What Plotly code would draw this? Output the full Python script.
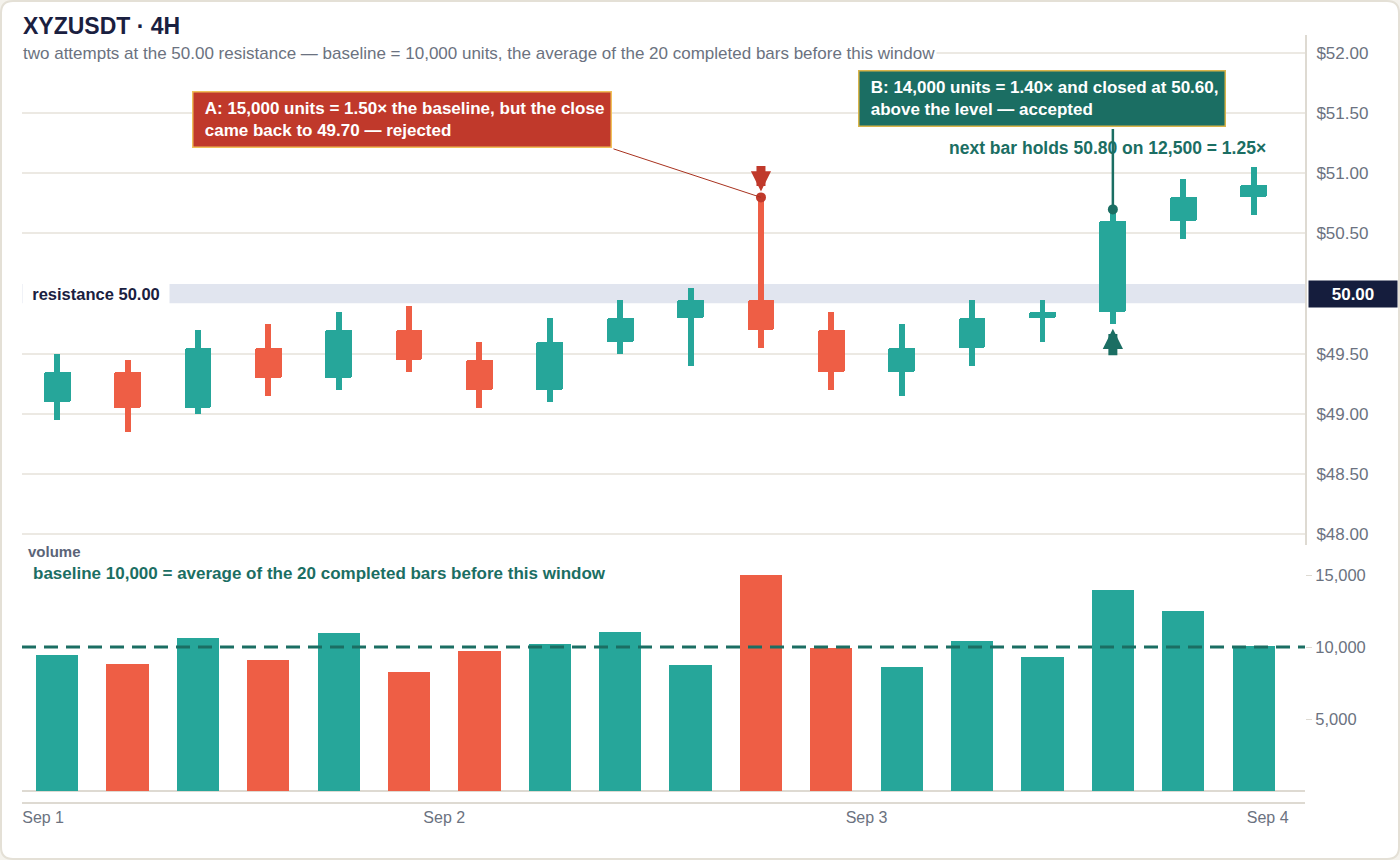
import plotly.graph_objects as go

# ---------------- data ----------------
bar_index = list(range(18))
opens  = [49.10, 49.35, 49.05, 49.55, 49.30, 49.70, 49.45, 49.20, 49.60, 49.80, 49.95, 49.70, 49.35, 49.55, 49.80, 49.85, 50.60, 50.80]
highs  = [49.50, 49.45, 49.70, 49.75, 49.85, 49.90, 49.60, 49.80, 49.95, 50.05, 50.80, 49.85, 49.75, 49.95, 49.95, 50.70, 50.95, 51.05]
lows   = [48.95, 48.85, 49.00, 49.15, 49.20, 49.35, 49.05, 49.10, 49.50, 49.40, 49.55, 49.20, 49.15, 49.40, 49.60, 49.75, 50.45, 50.65]
closes = [49.35, 49.05, 49.55, 49.30, 49.70, 49.45, 49.20, 49.60, 49.80, 49.95, 49.70, 49.35, 49.55, 49.80, 49.85, 50.60, 50.80, 50.90]
volumes = [9450, 8800, 10600, 9100, 11000, 8300, 9700, 10200, 11050, 8750, 15000, 9950, 8600, 10400, 9300, 14000, 12500, 10100]

day_tick_pos = [-0.2, 5.5, 11.5, 17.2]
day_tick_text = ["Sep 1", "Sep 2", "Sep 3", "Sep 4"]

# 50.00 is covered by the level tag on the axis
price_ticks = [48.0, 48.5, 49.0, 49.5, 50.5, 51.0, 51.5, 52.0]
price_tick_text = ["$%.2f" % v for v in price_ticks]
volume_ticks = [5000, 10000, 15000]

RESISTANCE = 50.00
BAND_HALF = 0.08
BASELINE = 10000
A_IDX = 10   # rejected attempt
B_IDX = 15   # accepted breakout
NEXT_IDX = 16

# ---------------- style ----------------
UP = "#26a69a"
DOWN = "#ee5e45"
A_FILL = "#c0392b"
B_FILL = "#1b6e63"
GOLD = "#f0c05a"
NAVY = "#151d3d"
GRAY = "#6b7280"
GRID = "#ece9e3"
AXIS = "#dedad2"
FONT = "Liberation Sans, Arial, sans-serif"
NB = "\u00a0"

W, H = 1400, 860
ML, MR, MT, MB = 22, 95, 35, 58
PW, PH = W - ML - MR, H - MT - MB


def fx(px):
    return (px - ML) / PW


def fy(py):
    return (H - MB - py) / PH


colors = [UP if c >= o else DOWN for o, c in zip(opens, closes)]
body_base = [min(o, c) for o, c in zip(opens, closes)]
body_len = [abs(c - o) for o, c in zip(opens, closes)]
wick_len = [h - l for h, l in zip(highs, lows)]

fig = go.Figure()

# wicks
fig.add_trace(go.Bar(x=bar_index, y=wick_len, base=lows, width=0.085,
                     marker=dict(color=colors, line=dict(width=0)),
                     xaxis="x", yaxis="y", showlegend=False, hoverinfo="skip"))
# bodies
fig.add_trace(go.Bar(x=bar_index, y=body_len, base=body_base, width=0.38,
                     marker=dict(color=colors, line=dict(width=0), cornerradius=2),
                     xaxis="x", yaxis="y", showlegend=False, hoverinfo="skip"))
# highlight dots
fig.add_trace(go.Scatter(x=[bar_index[A_IDX]], y=[highs[A_IDX]], mode="markers",
                         marker=dict(size=10, color=A_FILL), xaxis="x", yaxis="y",
                         showlegend=False, hoverinfo="skip"))
fig.add_trace(go.Scatter(x=[bar_index[B_IDX]], y=[highs[B_IDX]], mode="markers",
                         marker=dict(size=10, color=B_FILL), xaxis="x", yaxis="y",
                         showlegend=False, hoverinfo="skip"))
# volume
fig.add_trace(go.Bar(x=bar_index, y=volumes, width=0.6,
                     marker=dict(color=colors, line=dict(width=0)),
                     xaxis="x2", yaxis="y2", showlegend=False, hoverinfo="skip"))

# ---------------- shapes ----------------
r = 12
x0, x1 = fx(1), fx(W - 1)
y0, y1 = fy(H - 1), fy(1)
rx, ry = r / PW, r / PH
card = (f"M{x0 + rx},{y1} L{x1 - rx},{y1} Q{x1},{y1} {x1},{y1 - ry} "
        f"L{x1},{y0 + ry} Q{x1},{y0} {x1 - rx},{y0} L{x0 + rx},{y0} "
        f"Q{x0},{y0} {x0},{y0 + ry} L{x0},{y1 - ry} Q{x0},{y1} {x0 + rx},{y1} Z")

shapes = [
    dict(type="path", path=card, xref="paper", yref="paper", fillcolor="white",
         line=dict(color="#e4e0d6", width=2), layer="below"),
    dict(type="rect", xref="paper", yref="y", x0=0, x1=1,
         y0=RESISTANCE - BAND_HALF, y1=RESISTANCE + BAND_HALF,
         fillcolor="#e1e5ef", line=dict(width=0), layer="below"),
    dict(type="line", xref="paper", yref="y2", x0=0, x1=1, y0=BASELINE, y1=BASELINE,
         line=dict(color=B_FILL, width=3, dash="14px,8px"), layer="above"),
]

# ---------------- annotations ----------------
ann = []
ann.append(dict(text="<b>XYZUSDT · 4H</b>", xref="paper", yref="paper", x=fx(21), y=fy(26),
                xanchor="left", yanchor="middle", showarrow=False,
                font=dict(family=FONT, size=23, color="#1a2040")))
ann.append(dict(text="two attempts at the 50.00 resistance — baseline = 10,000 units, the average of the 20 completed bars before this window",
                xref="paper", yref="paper", x=fx(21), y=fy(53), xanchor="left", yanchor="middle",
                showarrow=False, bgcolor="white", borderpad=1,
                font=dict(family=FONT, size=17, color=GRAY)))

# A box + connector
ann.append(dict(text=f"<b>{NB}A: 15,000 units = 1.50× the baseline, but the close<br>{NB}came back to 49.70 — rejected</b>",
                x=bar_index[A_IDX], y=highs[A_IDX], xref="x", yref="y",
                xanchor="right", yanchor="bottom", xshift=-149, yshift=49,
                showarrow=False, align="left", bgcolor=A_FILL, bordercolor=GOLD,
                borderwidth=1.5, borderpad=6.5,
                font=dict(family=FONT, size=17, color="white")))
ann.append(dict(text="", x=bar_index[A_IDX], y=highs[A_IDX], xref="x", yref="y",
                ax=-149, ay=-49, showarrow=True, arrowhead=0, arrowwidth=1,
                arrowcolor="#a8321f"))
ann.append(dict(text="", x=bar_index[A_IDX], y=highs[A_IDX], xref="x", yref="y",
                ax=0, ay=-33, showarrow=True, arrowhead=2, arrowsize=0.45,
                arrowwidth=9, standoff=6, arrowcolor=A_FILL))

# B box + connector
ann.append(dict(text=f"<b>{NB}B: 14,000 units = 1.40× and closed at 50.60,<br>{NB}above the level — accepted</b>",
                x=bar_index[B_IDX], y=highs[B_IDX], xref="x", yref="y",
                xanchor="right", yanchor="bottom", xshift=113, yshift=82,
                showarrow=False, align="left", bgcolor=B_FILL, bordercolor="#d9b44a",
                borderwidth=1.5, borderpad=6.5,
                font=dict(family=FONT, size=17, color="white")))
ann.append(dict(text="", x=bar_index[B_IDX], y=highs[B_IDX], xref="x", yref="y",
                ax=0, ay=-82, showarrow=True, arrowhead=0, arrowwidth=2.5,
                arrowcolor=B_FILL))
ann.append(dict(text="", x=bar_index[B_IDX], y=lows[B_IDX], xref="x", yref="y",
                ax=0, ay=33, showarrow=True, arrowhead=2, arrowsize=0.45,
                arrowwidth=9, standoff=5, arrowcolor=B_FILL))

ann.append(dict(text="<b>next bar holds 50.80 on 12,500 = 1.25×</b>",
                x=bar_index[NEXT_IDX], y=highs[NEXT_IDX], xref="x", yref="y",
                xanchor="center", yanchor="middle", xshift=-76, yshift=31,
                showarrow=False, font=dict(family=FONT, size=17.5, color=B_FILL)))

# resistance labels
ann.append(dict(text="<b>resistance 50.00</b>", xref="paper", yref="y", x=0, y=RESISTANCE,
                xanchor="left", yanchor="middle", showarrow=False, bgcolor="white",
                width=138, height=14, borderpad=4, align="center",
                font=dict(family=FONT, size=16.5, color="#1a2040")))
ann.append(dict(text="<b>50.00</b>", xref="paper", yref="y", x=1, y=RESISTANCE,
                xanchor="left", yanchor="middle", showarrow=False, bgcolor=NAVY,
                width=80, height=18, borderpad=4, xshift=3,
                font=dict(family=FONT, size=17, color="white")))

# volume labels
ann.append(dict(text="<b>volume</b>", xref="paper", yref="paper", x=fx(26), y=fy(551),
                xanchor="left", yanchor="middle", showarrow=False,
                font=dict(family=FONT, size=15, color="#5b6478")))
ann.append(dict(text="<b>baseline 10,000 = average of the 20 completed bars before this window</b>",
                xref="paper", yref="paper", x=fx(31), y=fy(573),
                xanchor="left", yanchor="middle", showarrow=False,
                font=dict(family=FONT, size=17, color=B_FILL)))

xr = [-0.5, 17.73]
fig.update_layout(
    width=W, height=H,
    margin=dict(l=ML, r=MR, t=MT, b=MB),
    paper_bgcolor="#f4f2ec", plot_bgcolor="rgba(0,0,0,0)",
    barmode="overlay", bargap=0,
    font=dict(family=FONT, color=GRAY),
    shapes=shapes, annotations=ann,
    xaxis=dict(domain=[0, 1], anchor="y", range=xr, showticklabels=False,
               showgrid=False, zeroline=False, showline=False, ticks=""),
    xaxis2=dict(domain=[0, 1], anchor="y2", range=xr, matches="x",
                tickvals=day_tick_pos, ticktext=day_tick_text,
                showgrid=False, zeroline=False, showline=True, linecolor=AXIS,
                linewidth=2, ticks="", tickfont=dict(family=FONT, size=16, color=GRAY)),
    yaxis=dict(domain=[fy(545), 1], anchor="x", side="right", range=[47.91, 52.15],
               tickvals=price_ticks, ticktext=price_tick_text,
               showgrid=True, gridcolor=GRID, gridwidth=1.5, zeroline=False,
               showline=True, linecolor=AXIS, linewidth=2, ticks="",
               ticklabelstandoff=6,
               tickfont=dict(family=FONT, size=17, color=GRAY)),
    yaxis2=dict(domain=[0, fy(555)], anchor="x2", side="right", range=[-760, 16400],
                tickvals=volume_ticks, tickformat=",", showgrid=False,
                zeroline=True, zerolinecolor=AXIS, zerolinewidth=2,
                showline=False, ticks="outside", ticklen=6, tickcolor=AXIS,
                tickfont=dict(family=FONT, size=16.5, color=GRAY)),
)

fig.write_html("out.html", config={"displayModeBar": False},
               post_script="document.body.style.margin='0';")
